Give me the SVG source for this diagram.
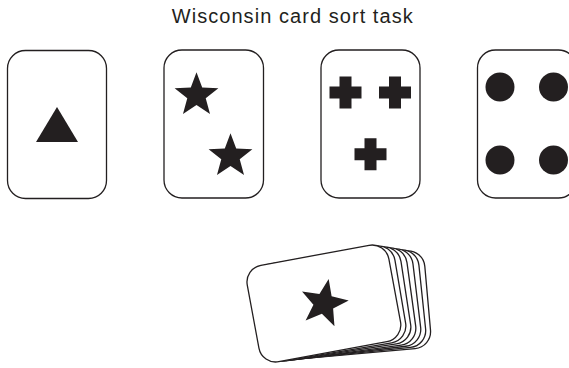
<svg xmlns="http://www.w3.org/2000/svg" width="569" height="368" viewBox="0 0 569 368">
<style>
.card{fill:#fff;stroke:#231f20;stroke-width:1.3}
.sym{fill:#231f20}
.title{font-family:"Liberation Sans",Arial,sans-serif;font-size:20px;fill:#231f20}
</style>
<defs>
<path id="star" d="M0,-23 L5.7,-7.85 L21.87,-7.11 L9.22,3 L13.52,18.61 L0,9.7 L-13.52,18.61 L-9.22,3 L-21.87,-7.11 L-5.7,-7.85 Z"/>
<path id="cross" d="M-6,-16 H6 V-6 H16 V6 H6 V16 H-6 V6 H-16 V-6 H-6 Z"/>
<rect id="dcard" x="-72" y="-49" width="144" height="98" rx="17" ry="17"/>
</defs>
<rect width="569" height="368" fill="#fff"/>
<text class="title" x="171.7" y="23.3" textLength="241" lengthAdjust="spacing">Wisconsin card sort task</text>
<g id="card-triangle">
<rect class="card" x="7.5" y="50.5" width="99" height="148" rx="18" ry="18"/>
<polygon class="sym" points="57,107 36,142 78,142"/>
</g>
<g id="card-stars">
<rect class="card" x="164" y="50" width="99.5" height="148" rx="18" ry="18"/>
<use href="#star" class="sym" transform="translate(196.5,95.3)"/>
<use href="#star" class="sym" transform="translate(230.5,156.3)"/>
</g>
<g id="card-crosses">
<rect class="card" x="321" y="50" width="99" height="148" rx="18" ry="18"/>
<use href="#cross" class="sym" transform="translate(345.5,92.5)"/>
<use href="#cross" class="sym" transform="translate(395,92.5)"/>
<use href="#cross" class="sym" transform="translate(370.5,154.3)"/>
</g>
<g id="card-circles">
<rect class="card" x="477.5" y="50" width="99" height="148" rx="18" ry="18"/>
<circle class="sym" cx="500" cy="87" r="14.5"/>
<circle class="sym" cx="553.5" cy="87" r="14.5"/>
<circle class="sym" cx="500" cy="160" r="14.5"/>
<circle class="sym" cx="553.5" cy="160" r="14.5"/>
</g>
<g id="deck" transform="translate(323.9,303.5) rotate(-10.5)">
<use href="#dcard" class="card" transform="translate(27,0) rotate(5.4,-72,49)"/>
<use href="#dcard" class="card" transform="translate(22.5,0) rotate(4.5,-72,49)"/>
<use href="#dcard" class="card" transform="translate(18,0) rotate(3.6,-72,49)"/>
<use href="#dcard" class="card" transform="translate(13.5,0) rotate(2.7,-72,49)"/>
<use href="#dcard" class="card" transform="translate(9,0) rotate(1.8,-72,49)"/>
<use href="#dcard" class="card" transform="translate(4.5,0) rotate(0.9,-72,49)"/>
<use href="#dcard" class="card"/>
<use href="#star" class="sym" transform="rotate(21.5) scale(1.087)"/>
</g>
<g id="connectors"/>
</svg>
